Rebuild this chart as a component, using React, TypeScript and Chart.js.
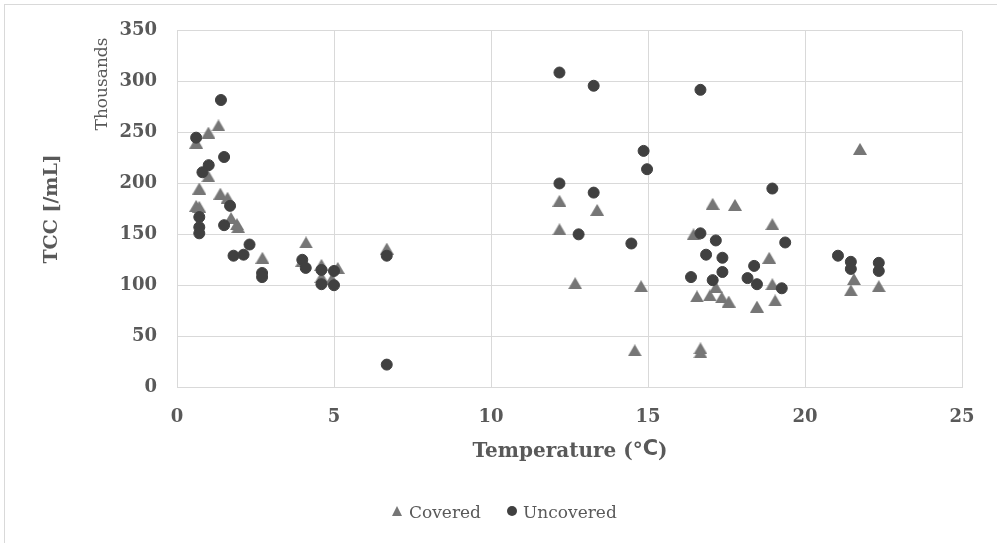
import React, { useEffect, useRef } from "react";
import { Chart, registerables } from "chart.js";

Chart.register(...registerables);

// Temperature (°C) and total cell count (thousands per mL)
const coveredTemp = [
  0.61, 1.0, 1.32, 1.0, 0.71, 1.38, 1.61, 0.61, 0.71, 1.72, 1.91, 1.95, 2.72,
  4.11, 3.99, 4.6, 4.6, 5.12, 4.93, 6.68, 12.18, 13.38, 12.18, 12.68, 14.78,
  14.58, 16.45, 16.56, 16.67, 16.67, 17.06, 17.77, 18.96, 18.86, 17.16, 16.97,
  17.35, 17.57, 18.47, 19.05, 18.96, 21.75, 21.56, 21.46, 22.35,
];
const coveredTcc = [
  240, 250, 257, 207, 195, 190, 186, 178, 177, 166, 160, 157, 127, 142, 124,
  120, 108, 117, 106, 136, 183, 174, 155, 102, 99, 36, 150, 89, 38, 34, 180,
  179, 160, 127, 98, 90, 88, 84, 79, 85, 101, 234, 106, 95, 99,
];

const uncoveredTemp = [
  1.4, 0.61, 1.5, 1.01, 0.81, 1.69, 0.71, 0.71, 0.71, 1.5, 2.31, 2.12, 1.8,
  2.71, 2.71, 3.99, 4.1, 4.6, 4.6, 5.0, 5.0, 6.68, 6.68, 12.18, 13.27, 16.67,
  14.86, 14.97, 12.18, 13.27, 12.79, 14.47, 16.67, 16.85, 16.37, 18.96, 17.16,
  17.37, 19.37, 17.37, 18.38, 17.06, 18.17, 18.47, 19.26, 21.05, 21.46, 21.46,
  22.35, 22.35,
];
const uncoveredTcc = [
  282, 245, 226, 218, 211, 178, 167, 157, 151, 159, 140, 130, 129, 112, 108,
  125, 117, 115, 101, 114, 100, 129, 22, 309, 296, 292, 232, 214, 200, 191,
  150, 141, 151, 130, 108, 195, 144, 127, 142, 113, 119, 105, 107, 101, 97,
  129, 123, 116, 122, 114,
];

const seriesNames = ["Covered", "Uncovered"];
const xTitle = "Temperature (°";
const xTitleUnit = "C";
const yTitle = "TCC [/mL]";
const yUnitLabel = "Thousands";

const COVERED_COLOR = "#767676";
const UNCOVERED_COLOR = "#404040";
const TEXT_COLOR = "#595959";
const GRID_COLOR = "#d9d9d9";
const SERIF = "'DejaVu Serif', serif";

function makeTriangle(w: number, h: number, color: string) {
  const c = document.createElement("canvas");
  c.width = w;
  c.height = h;
  const g = c.getContext("2d")!;
  g.fillStyle = color;
  g.beginPath();
  g.moveTo(w / 2, 0);
  g.lineTo(w, h);
  g.lineTo(0, h);
  g.closePath();
  g.fill();
  return c;
}

const decorations = {
  id: "decorations",
  afterDraw(chart: any) {
    const ctx = chart.ctx as CanvasRenderingContext2D;
    const area = chart.chartArea;
    ctx.save();

    // outer frame
    ctx.strokeStyle = GRID_COLOR;
    ctx.lineWidth = 1;
    ctx.strokeRect(4.5, 4.5, 1100, 700);

    ctx.fillStyle = TEXT_COLOR;

    // y axis title
    ctx.save();
    ctx.translate(57, (area.top + area.bottom) / 2);
    ctx.rotate(-Math.PI / 2);
    ctx.font = `bold 19px ${SERIF}`;
    ctx.textAlign = "center";
    ctx.textBaseline = "alphabetic";
    ctx.fillText(yTitle, 0, 0);
    ctx.restore();

    // display unit
    ctx.save();
    ctx.translate(107, 84);
    ctx.rotate(-Math.PI / 2);
    ctx.font = `17px ${SERIF}`;
    ctx.textAlign = "center";
    ctx.textBaseline = "alphabetic";
    ctx.fillText(yUnitLabel, 0, 0);
    ctx.restore();

    // x axis title (unit letter set in a sans face)
    const titleFont = `bold 20px ${SERIF}`;
    const unitFont = `bold 21px 'DejaVu Sans', sans-serif`;
    ctx.font = titleFont;
    const w1 = ctx.measureText(xTitle).width;
    ctx.font = unitFont;
    const w2 = ctx.measureText(xTitleUnit).width;
    ctx.font = titleFont;
    const w3 = ctx.measureText(")").width;
    const total = w1 + w2 + w3;
    let tx = 570 - total / 2;
    const ty = 457;
    ctx.textAlign = "left";
    ctx.textBaseline = "alphabetic";
    ctx.fillText(xTitle, tx, ty);
    tx += w1;
    ctx.font = unitFont;
    ctx.fillText(xTitleUnit, tx, ty - 2);
    tx += w2;
    ctx.font = titleFont;
    ctx.fillText(")", tx, ty);

    // legend
    const ly = 511;
    ctx.fillStyle = COVERED_COLOR;
    ctx.beginPath();
    ctx.moveTo(397, ly - 5);
    ctx.lineTo(402, ly + 5);
    ctx.lineTo(392, ly + 5);
    ctx.closePath();
    ctx.fill();
    ctx.fillStyle = UNCOVERED_COLOR;
    ctx.beginPath();
    ctx.arc(512, ly, 5, 0, Math.PI * 2);
    ctx.fill();
    ctx.fillStyle = TEXT_COLOR;
    ctx.font = `17px ${SERIF}`;
    ctx.fillText(seriesNames[0], 409, 518);
    ctx.fillText(seriesNames[1], 523, 518);

    ctx.restore();
  },
};

export default function App() {
  const ref = useRef<HTMLCanvasElement | null>(null);

  useEffect(() => {
    if (!ref.current) return;
    const tri = makeTriangle(14, 12, COVERED_COLOR);
    const chart = new Chart(ref.current, {
      type: "scatter",
      data: {
        datasets: [
          {
            label: seriesNames[1],
            data: uncoveredTemp.map((x, i) => ({ x, y: uncoveredTcc[i] })),
            pointStyle: "circle",
            pointRadius: 5.5,
            pointBorderWidth: 1,
            backgroundColor: UNCOVERED_COLOR,
            borderColor: UNCOVERED_COLOR,
            order: 0,
          },
          {
            label: seriesNames[0],
            data: coveredTemp.map((x, i) => ({ x, y: coveredTcc[i] })),
            pointStyle: tri as any,
            pointRadius: 7,
            backgroundColor: COVERED_COLOR,
            borderColor: COVERED_COLOR,
            order: 1,
          },
        ],
      },
      options: {
        responsive: false,
        animation: false,
        layout: { padding: { top: 30, right: 35, left: 0, bottom: 0 } },
        plugins: {
          legend: { display: false },
          tooltip: { enabled: false },
          title: { display: false },
        },
        scales: {
          x: {
            type: "linear",
            min: 0,
            max: 25,
            ticks: {
              stepSize: 5,
              padding: 20,
              color: TEXT_COLOR,
              font: { family: SERIF, size: 18, weight: "bold" },
            },
            grid: { color: GRID_COLOR, drawTicks: false },
            border: { color: GRID_COLOR },
            afterFit: (s: any) => {
              s.height = 156;
            },
          },
          y: {
            min: 0,
            max: 350,
            ticks: {
              stepSize: 50,
              padding: 20,
              color: TEXT_COLOR,
              font: { family: SERIF, size: 18, weight: "bold" },
            },
            grid: { color: GRID_COLOR, drawTicks: false },
            border: { color: GRID_COLOR },
            afterFit: (s: any) => {
              s.width = 177;
            },
          },
        },
      },
      plugins: [decorations],
    });
    return () => chart.destroy();
  }, []);

  return (
    <div style={{ position: "fixed", left: 0, top: 0, width: 997, height: 543, background: "#fff" }}>
      <canvas ref={ref} width={997} height={543} />
    </div>
  );
}
